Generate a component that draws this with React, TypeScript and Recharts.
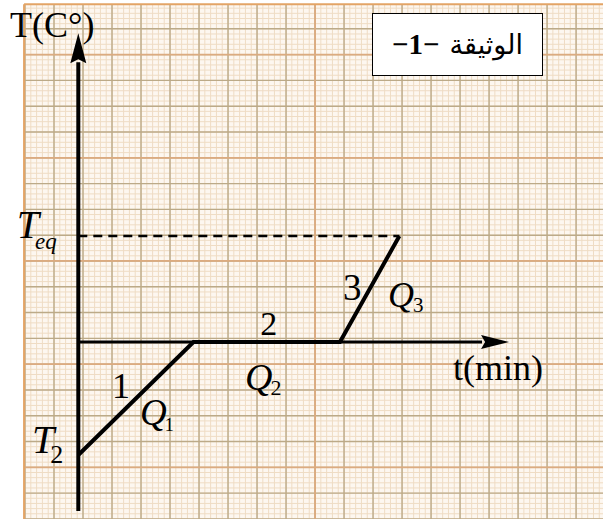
import React from "react";
import {
  ComposedChart,
  XAxis,
  YAxis,
  CartesianGrid,
  Line,
  Scatter,
  ReferenceArea,
  ReferenceLine,
} from "recharts";

const W = 603;
const H = 519;
const SERIF = '"Liberation Serif", "Times New Roman", serif';

// visible window, in chart units (1 unit = one big square of the paper)
const X_DOMAIN: [number, number] = [-2.7, 18.09];
const Y_DOMAIN: [number, number] = [-6.86, 13.26];
const PAPER_LEFT = -1.87;
const PAPER_TOP = 13.1;

// key temperatures
const T2 = -4.38;
const TEQ = 4.11;

// heating curve: phases 1, 2, 3
const CURVE_TIME = [0, 3.97, 9.02, 11.07];
const CURVE_TEMP = [T2, 0, 0, TEQ];

// axis arrows and the dashed T_eq line
const TEMP_AXIS_TIME = [0, 0];
const TEMP_AXIS_TEMP = [-6.55, 10.85];
const TIME_AXIS_TIME = [0, 13.92];
const TIME_AXIS_TEMP = [0, 0];
const EQ_TIME = [0, 11.07];

// paper grid
const range = (start: number, end: number, step: number) => {
  const out: number[] = [];
  for (let v = start; v <= end + 1e-6; v += step) out.push(+v.toFixed(3));
  return out;
};
const MAJOR_X = range(-1.838, 18.09, 1);
const MINOR_X = range(-2.638, 18.09, 0.2);
const MAJOR_Y = range(-6.857, 13.26, 1);
const MINOR_Y = range(-6.857, 13.26, 0.2);
const ACCENT_X = [8.162];
const ACCENT_Y = [-4.857, -0.857, 3.143, 7.143, 11.143];

// annotations (anchor = left end of the text baseline)
const LABELS = [
  { id: "tAxis", t: -2.355, T: 11.82, text: "T(C°)", sub: "" },
  { id: "teq", t: -2.12, T: 4.03, text: "T", sub: "eq" },
  { id: "t2", t: -1.6, T: -4.3, text: "T", sub: "2" },
  { id: "p1", t: 1.16, T: -2.17, text: "1", sub: "" },
  { id: "q1", t: 2.13, T: -3.22, text: "Q", sub: "1" },
  { id: "p2", t: 6.27, T: 0.27, text: "2", sub: "" },
  { id: "q2", t: 5.75, T: -1.86, text: "Q", sub: "2" },
  { id: "p3", t: 9.13, T: 1.63, text: "3", sub: "" },
  { id: "q3", t: 10.68, T: 1.36, text: "Q", sub: "3" },
  { id: "time", t: 12.92, T: -1.47, text: "t(min)", sub: "" },
];

const zip = (ts: number[], temps: number[]) => ts.map((t, i) => ({ t, T: temps[i] }));
const heating = zip(CURVE_TIME, CURVE_TEMP);
const tempAxis = zip(TEMP_AXIS_TIME, TEMP_AXIS_TEMP);
const timeAxis = zip(TIME_AXIS_TIME, TIME_AXIS_TEMP);
const eqLine = zip(EQ_TIME, [TEQ, TEQ]);

type LabelStyle = {
  size: number;
  italic?: boolean;
  subSize?: number;
  subItalic?: boolean;
  subDx?: number;
  subDy?: number;
};

const LABEL_STYLE: Record<string, LabelStyle> = {
  tAxis: { size: 36 },
  teq: { size: 40, italic: true, subSize: 23, subItalic: true, subDx: -4, subDy: 11 },
  t2: { size: 40, italic: true, subSize: 26, subDx: -4, subDy: 10 },
  p1: { size: 36 },
  q1: { size: 37, italic: true, subSize: 18, subDx: -2, subDy: 6 },
  p2: { size: 34 },
  q2: { size: 38, italic: true, subSize: 22, subDx: -2, subDy: 5 },
  p3: { size: 37 },
  q3: { size: 36, italic: true, subSize: 21, subDx: -1, subDy: 5 },
  time: { size: 36 },
};

const renderLabel = (p: any) => {
  const d = p.payload;
  const s = LABEL_STYLE[d.id];
  return (
    <text
      x={p.cx}
      y={p.cy}
      fontFamily={SERIF}
      fontSize={s.size}
      fontStyle={s.italic ? "italic" : "normal"}
      fill="#000"
    >
      {d.text}
      {d.sub ? (
        <tspan
          dx={s.subDx}
          dy={s.subDy}
          fontSize={s.subSize}
          fontStyle={s.subItalic ? "italic" : "normal"}
        >
          {d.sub}
        </tspan>
      ) : null}
    </text>
  );
};

const upArrow = (p: any) => {
  if (p.index !== 1) return <g key={p.index} />;
  const { cx, cy } = p;
  return (
    <polygon
      key={p.index}
      points={`${cx},${cy - 29} ${cx + 8},${cy + 1} ${cx},${cy - 3} ${cx - 8},${cy + 1}`}
      fill="#000"
    />
  );
};

const rightArrow = (p: any) => {
  if (p.index !== 1) return <g key={p.index} />;
  const { cx, cy } = p;
  return (
    <polygon
      key={p.index}
      points={`${cx + 27},${cy} ${cx - 1},${cy - 7} ${cx + 3},${cy} ${cx - 1},${cy + 7}`}
      fill="#000"
    />
  );
};

export default function App() {
  return (
    <div style={{ position: "absolute", left: 0, top: 0, width: W, height: H, background: "#fff" }}>
      <ComposedChart width={W} height={H} margin={{ top: 0, right: 0, bottom: 0, left: 0 }}>
        <XAxis xAxisId="main" dataKey="t" type="number" domain={X_DOMAIN} interval={0} allowDataOverflow hide />
        <YAxis yAxisId="main" dataKey="T" type="number" domain={Y_DOMAIN} interval={0} allowDataOverflow hide />

        <CartesianGrid
          xAxisId="main"
          yAxisId="main"
          fill="#fdf7f0"
          fillOpacity={1}
          vertical={false}
          horizontal={false}
        />
        <CartesianGrid
          xAxisId="main"
          yAxisId="main"
          verticalValues={MINOR_X}
          horizontalValues={MINOR_Y}
          stroke="#efdcc4"
          strokeWidth={1}
          syncWithTicks
        />
        <CartesianGrid
          xAxisId="main"
          yAxisId="main"
          verticalValues={MAJOR_X}
          horizontalValues={MAJOR_Y}
          stroke="#bcaa88"
          strokeWidth={1.4}
          syncWithTicks
        />
        <CartesianGrid
          xAxisId="main"
          yAxisId="main"
          verticalValues={ACCENT_X}
          horizontalValues={ACCENT_Y}
          stroke="#dcab80"
          strokeWidth={1.8}
          syncWithTicks
        />

        <ReferenceArea xAxisId="main" yAxisId="main" x1={X_DOMAIN[0]} x2={PAPER_LEFT} y1={Y_DOMAIN[0]} y2={Y_DOMAIN[1]} fill="#fff" fillOpacity={1} stroke="none" />
        <ReferenceArea xAxisId="main" yAxisId="main" x1={X_DOMAIN[0]} x2={X_DOMAIN[1]} y1={PAPER_TOP} y2={Y_DOMAIN[1]} fill="#fff" fillOpacity={1} stroke="none" />
        <ReferenceLine xAxisId="main" yAxisId="main" stroke="#e3a466" strokeWidth={2} segment={[{ x: PAPER_LEFT, y: Y_DOMAIN[0] }, { x: PAPER_LEFT, y: PAPER_TOP }]} />
        <ReferenceLine xAxisId="main" yAxisId="main" stroke="#e3a466" strokeWidth={2} segment={[{ x: PAPER_LEFT, y: PAPER_TOP }, { x: X_DOMAIN[1], y: PAPER_TOP }]} />

        <Line xAxisId="main" yAxisId="main" data={eqLine} dataKey="T" type="linear" stroke="#000" strokeWidth={2.5} strokeDasharray="9 6" dot={false} isAnimationActive={false} />
        <Line xAxisId="main" yAxisId="main" data={timeAxis} dataKey="T" type="linear" stroke="#000" strokeWidth={3} dot={rightArrow} activeDot={false} isAnimationActive={false} />
        <Line xAxisId="main" yAxisId="main" data={tempAxis} dataKey="T" type="linear" stroke="#000" strokeWidth={4} dot={upArrow} activeDot={false} isAnimationActive={false} />
        <Line xAxisId="main" yAxisId="main" data={heating} dataKey="T" type="linear" stroke="#000" strokeWidth={4} dot={false} activeDot={false} isAnimationActive={false} />

        <Scatter xAxisId="main" yAxisId="main" data={LABELS} dataKey="T" shape={renderLabel} isAnimationActive={false} />
      </ComposedChart>

      <div
        style={{
          position: "absolute",
          left: 372,
          top: 13,
          width: 171,
          height: 63,
          boxSizing: "border-box",
          border: "1.5px solid #000",
          background: "#fff",
          display: "flex",
          alignItems: "center",
          justifyContent: "center",
          direction: "rtl",
          fontFamily: '"Liberation Serif", "DejaVu Sans", serif',
          fontSize: 27,
          color: "#000",
        }}
      >
        <span>الوثيقة</span>
        <span style={{ fontWeight: "bold", fontSize: 29, marginRight: 10 }}>−1−</span>
      </div>
    </div>
  );
}
